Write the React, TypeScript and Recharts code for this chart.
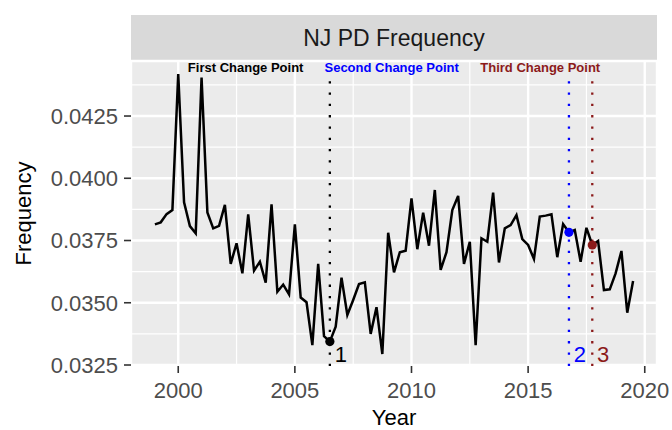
import {
  ComposedChart,
  Line,
  Scatter,
  XAxis,
  YAxis,
  CartesianGrid,
  ReferenceLine,
} from "recharts";

// quarterly series, first quarter of 1999 onwards
const startYear = 1999;
const frequency = [
  0.03815, 0.03823, 0.03856, 0.03872,
  0.04419, 0.03903, 0.03808, 0.03779,
  0.04405, 0.03863, 0.03799, 0.03809,
  0.03893, 0.03656, 0.03739, 0.03618,
  0.03855, 0.03629, 0.03665, 0.03581,
  0.03895, 0.03544, 0.03573, 0.03534,
  0.03815, 0.03521, 0.03502, 0.0333,
  0.03656, 0.03366, 0.03344, 0.03404,
  0.03601, 0.03451, 0.03511, 0.03575,
  0.03582, 0.03375, 0.03482, 0.03294,
  0.03781, 0.03622, 0.03703, 0.03709,
  0.03919, 0.03715, 0.03862, 0.03729,
  0.03953, 0.03632, 0.03703, 0.03872,
  0.03929, 0.03656, 0.03745, 0.0333,
  0.03759, 0.03745, 0.03942, 0.03662,
  0.03799, 0.03812, 0.03852, 0.03756,
  0.03732, 0.03676, 0.03846, 0.0385,
  0.03855, 0.03683, 0.03816, 0.03783,
  0.03792, 0.03665, 0.03801, 0.03732,
  0.03748, 0.03551, 0.03554, 0.03618,
  0.03708, 0.0346, 0.03587,
];

const changeYears = [2006.5, 2016.75, 2017.75];
const changeColors = ["#000000", "#0000FF", "#8B1A1A"];
const changeLabels = ["1", "2", "3"];
const changeTitles = ["First Change Point", "Second Change Point", "Third Change Point"];
const titleYears = [2002.89, 2009.15, 2015.52];
const titleLevel = 0.04443;
const segmentTop = 0.0439;
const labelShift = 0.47;

const xTicks = [2000, 2005, 2010, 2015, 2020];
const yTicks = [0.0325, 0.035, 0.0375, 0.04, 0.0425];
const xMinor = [2002.5, 2007.5, 2012.5, 2017.5];
const yMinor = [0.03375, 0.03625, 0.03875, 0.04125, 0.04375];
const xDomain = [1997.975, 2020.525];
const yDomain = [0.03246, 0.04471];

const FONT = "'Liberation Sans', Arial, sans-serif";

const series = frequency.map((value, i) => ({ year: startYear + i / 4, value }));
const labelLevel = Math.min(...frequency);

const changePoints = changeYears.map((year, i) => ({
  year,
  value: series.find((d) => d.year === year)?.value ?? 0,
  color: changeColors[i],
}));
const changeText = changeYears.map((year, i) => ({
  year: year + labelShift,
  value: labelLevel,
  color: changeColors[i],
  text: changeLabels[i],
}));
const titleText = titleYears.map((year, i) => ({
  year,
  value: titleLevel,
  color: changeColors[i],
  text: changeTitles[i],
}));

export default function App() {
  return (
    <div style={{ position: "absolute", left: 0, top: 0, width: 672, height: 430, background: "#fff", fontFamily: FONT }}>
      <div
        style={{
          position: "absolute",
          left: 131,
          top: 15,
          width: 526,
          height: 46,
          background: "#D9D9D9",
          color: "#1A1A1A",
          fontSize: 23,
          lineHeight: "46px",
          textAlign: "center",
        }}
      >
        NJ PD Frequency
      </div>
      <ComposedChart
        width={672}
        height={430}
        data={series}
        margin={{ top: 61, right: 15, left: 0, bottom: 0 }}
        style={{ fontFamily: FONT }}
      >
        <CartesianGrid fill="#EBEBEB" stroke="#FFFFFF" strokeWidth={2.4} />
        {xMinor.map((x) => (
          <ReferenceLine key={"mx" + x} x={x} stroke="#FFFFFF" strokeWidth={1.2} zIndex={-50} />
        ))}
        {yMinor.map((y) => (
          <ReferenceLine key={"my" + y} y={y} stroke="#FFFFFF" strokeWidth={1.2} zIndex={-50} />
        ))}
        <XAxis
          dataKey="year"
          type="number"
          domain={xDomain}
          ticks={xTicks}
          height={64}
          axisLine={false}
          tickLine={{ stroke: "#333333", strokeWidth: 1.6 }}
          tickSize={7}
          tickMargin={9}
          tick={{ fill: "#4D4D4D", fontSize: 22 }}
          label={{ value: "Year", position: "insideBottom", offset: 5, fill: "#000", fontSize: 22 }}
        />
        <YAxis
          type="number"
          domain={yDomain}
          ticks={yTicks}
          width={131}
          axisLine={false}
          tickLine={{ stroke: "#333333", strokeWidth: 1.6 }}
          tickSize={7}
          tickMargin={6}
          tick={{ fill: "#4D4D4D", fontSize: 22 }}
          tickFormatter={(v: number) => v.toFixed(4)}
          label={(props: any) => {
            const vb = props.viewBox || { x: 0, y: 61, width: 131, height: 305 };
            const cx = vb.x + 31;
            const cy = vb.y + vb.height / 2;
            return (
              <text
                x={cx}
                y={cy}
                transform={`rotate(-90, ${cx}, ${cy})`}
                textAnchor="middle"
                fontSize={22}
                fill="#000"
              >
                Frequency
              </text>
            );
          }}
        />
        {changeYears.map((x, i) => (
          <ReferenceLine
            key={"cp" + x}
            segment={[
              { x, y: yDomain[0] },
              { x, y: segmentTop },
            ]}
            stroke={changeColors[i]}
            strokeWidth={2.3}
            strokeDasharray="2.3 9"
          />
        ))}
        <Line
          dataKey="value"
          type="linear"
          stroke="#000000"
          strokeWidth={2.5}
          dot={false}
          activeDot={false}
          isAnimationActive={false}
        />
        <Scatter
          data={changePoints}
          dataKey="value"
          isAnimationActive={false}
          shape={(p: any) => <circle cx={p.cx} cy={p.cy} r={4.6} fill={p.payload.color} />}
        />
        <Scatter
          data={changeText}
          dataKey="value"
          isAnimationActive={false}
          shape={(p: any) => (
            <text x={p.cx} y={p.cy} textAnchor="middle" dominantBaseline="central" fontSize={22} fill={p.payload.color}>
              {p.payload.text}
            </text>
          )}
        />
        <Scatter
          data={titleText}
          dataKey="value"
          isAnimationActive={false}
          shape={(p: any) => (
            <text
              x={p.cx}
              y={p.cy}
              textAnchor="middle"
              dominantBaseline="central"
              fontSize={13}
              fontWeight="bold"
              fill={p.payload.color}
            >
              {p.payload.text}
            </text>
          )}
        />
      </ComposedChart>
    </div>
  );
}
